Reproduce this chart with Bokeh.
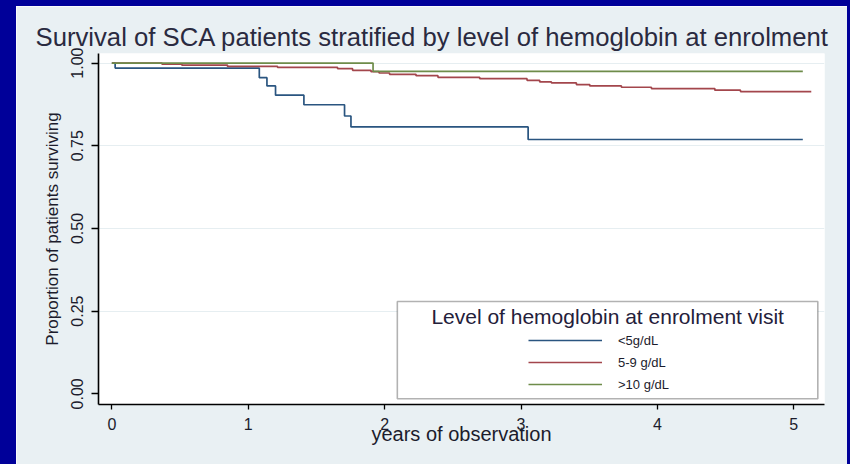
from bokeh.plotting import figure
from bokeh.models import (Range1d, FixedTicker, BoxAnnotation, Label, Legend, LegendItem, Title)
from bokeh.embed import file_html
from bokeh.resources import INLINE

# ---- data ----
title_text = "Survival of SCA patients stratified by level of hemoglobin at enrolment"
x_label = "years of observation"
y_label = "Proportion of patients surviving"
legend_title = "Level of hemoglobin at enrolment visit"
series_names = ["<5g/dL", "5-9 g/dL", ">10 g/dL"]

x_ticks = [0, 1, 2, 3, 4, 5]
y_ticks = [0.0, 0.25, 0.5, 0.75, 1.0]
y_tick_labels = ["0.00", "0.25", "0.50", "0.75", "1.00"]

low_t = [0.0, 0.024, 1.081, 1.137, 1.200, 1.408, 1.706, 1.753, 3.052, 5.066]
low_s = [1.0, 0.985, 0.956, 0.931, 0.903, 0.874, 0.840, 0.807, 0.769, 0.769]

mid_t = [0.0, 0.367, 0.513, 0.848, 1.215, 1.655, 1.765, 1.900, 1.959, 2.036, 2.230,
         2.391, 2.697, 3.044, 3.137, 3.223, 3.406, 3.504, 3.736, 3.956, 4.421, 4.609, 5.128]
mid_s = [1.0, 0.997, 0.994, 0.990, 0.987, 0.983, 0.978, 0.974, 0.970, 0.966, 0.962,
         0.957, 0.953, 0.948, 0.943, 0.940, 0.935, 0.931, 0.927, 0.923, 0.918, 0.914, 0.914]

high_t = [0.0, 1.915, 5.066]
high_s = [1.0, 0.975, 0.975]

# ---- styling ----
FONT = "Liberation Sans"
BG = "#E9F0F3"
DARK = "#000099"
TXT = "#1c1c2c"
colors = ["#2A5580", "#A3464C", "#6E8C4A"]

p = figure(width=850, height=464, output_backend="svg", toolbar_location=None,
           x_range=Range1d(-0.098, 5.225), y_range=Range1d(-0.0323, 1.029),
           min_border_left=82, min_border_right=42, min_border_top=47, min_border_bottom=66)
p.styles = {"border-style": "solid", "border-color": DARK,
            "border-width": "6px 3px 0px 16px"}
p.background_fill_color = "white"
p.border_fill_color = BG
p.outline_line_color = None

p.title = Title(text=title_text, align="left", offset=-63, standoff=5,
                text_font=FONT, text_font_size="25.7px", text_font_style="normal",
                text_color="#2a2a40")

# axes
for ax in (p.xaxis[0], p.yaxis[0]):
    ax.axis_line_color = "black"
    ax.axis_line_width = 1.6
    ax.major_tick_line_color = "black"
    ax.major_tick_line_width = 1.3
    ax.major_tick_in = 0
    ax.minor_tick_line_color = None
    ax.major_label_text_font = FONT
    ax.major_label_text_font_size = "16px"
    ax.major_label_text_color = TXT
    ax.axis_label_text_font = FONT
    ax.axis_label_text_font_style = "normal"
    ax.axis_label_text_color = TXT

p.xaxis.ticker = FixedTicker(ticks=x_ticks)
p.xaxis.major_tick_out = 5
p.xaxis.major_label_standoff = 8
p.xaxis.axis_label = x_label
p.xaxis.axis_label_text_font_size = "20px"
p.xaxis.axis_label_standoff = -10

p.yaxis.ticker = FixedTicker(ticks=y_ticks)
p.yaxis.major_label_overrides = {t: l for t, l in zip(y_ticks, y_tick_labels)}
p.yaxis.major_label_orientation = "vertical"
p.yaxis.major_tick_out = 7
p.yaxis.major_label_standoff = 8
p.yaxis.axis_label = y_label
p.yaxis.axis_label_text_font_size = "17px"
p.yaxis.axis_label_standoff = 7

p.xgrid.grid_line_color = None
p.ygrid.ticker = FixedTicker(ticks=[0.25, 0.5, 0.75, 1.0])
p.ygrid.grid_line_color = "#E6EEF1"
p.ygrid.grid_line_width = 1.2

# survival curves
r_low = p.step(low_t, low_s, mode="after", line_color=colors[0], line_width=1.7)
r_mid = p.step(mid_t, mid_s, mode="after", line_color=colors[1], line_width=1.7)
r_high = p.step(high_t, high_s, mode="after", line_color=colors[2], line_width=1.7)

# legend box
box = BoxAnnotation(left=2.093, right=5.176, top=0.279, bottom=-0.0151,
                    fill_color="white", fill_alpha=1.0, line_color="black", line_width=1.6)
p.add_layout(box)

p.add_layout(Label(x=3.635, y=0.2335, text=legend_title, text_align="center",
                   text_baseline="middle", text_font=FONT, text_font_size="21px",
                   text_color="#24203a"))

legend = Legend(items=[LegendItem(label=n, renderers=[r]) for n, r in
                       zip(series_names, [r_low, r_mid, r_high])],
                location=(430, 10), padding=0, margin=0, spacing=2,
                glyph_width=74, glyph_height=20, label_height=20, label_standoff=16,
                label_text_font=FONT, label_text_font_size="13px", label_text_color=TXT,
                background_fill_alpha=0, border_line_color=None)
p.add_layout(legend)

open("out.html", "w").write(file_html(p, INLINE))
